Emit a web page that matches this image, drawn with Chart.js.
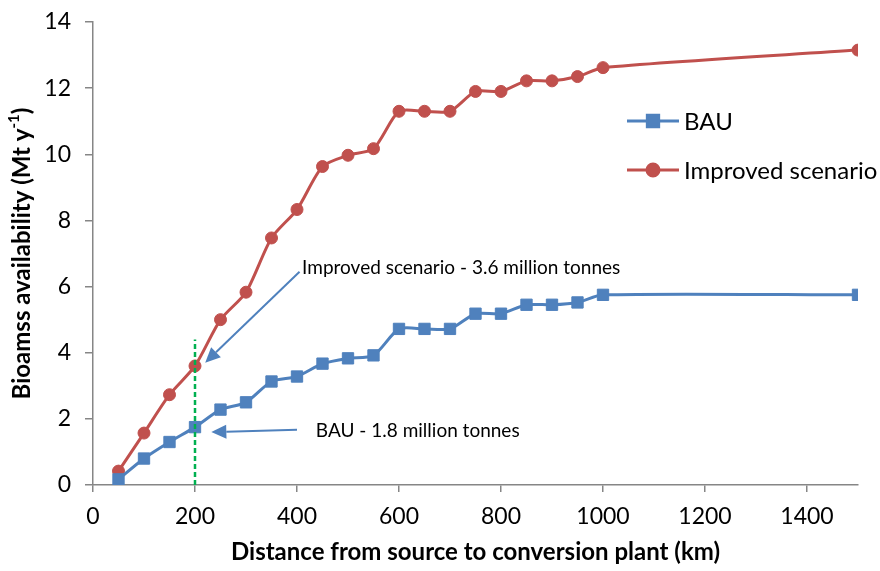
<!DOCTYPE html>
<html>
<head>
<meta charset="utf-8">
<script src="https://cdn.jsdelivr.net/npm/chart.js@4/dist/chart.umd.min.js"></script>
<style>
  html, body { margin: 0; padding: 0; background: #fff; }
  #wrap { width: 880px; height: 571px; }
</style>
</head>
<body>
<div id="wrap"><canvas id="chart"></canvas></div>
<script>
// data
const distances = [50, 100, 150, 200, 250, 300, 350, 400, 450, 500, 550, 600, 650, 700, 750, 800, 850, 900, 950, 1000, 1500];
const bau = [0.17, 0.8, 1.3, 1.75, 2.28, 2.5, 3.13, 3.28, 3.67, 3.83, 3.92, 4.72, 4.72, 4.72, 5.18, 5.18, 5.45, 5.45, 5.52, 5.75, 5.75];
const improved = [0.42, 1.57, 2.73, 3.6, 5.0, 5.83, 7.47, 8.33, 9.63, 9.97, 10.17, 11.3, 11.3, 11.3, 11.9, 11.9, 12.22, 12.22, 12.35, 12.62, 13.15];
const xTicks = [0, 200, 400, 600, 800, 1000, 1200, 1400];

const BLUE = '#4F81BD';
const RED = '#C0504D';
const FONT = 'Lato, "Open Sans", sans-serif';

const toPoints = (ys) => distances.map((d, i) => ({ x: d, y: ys[i] }));

function arrow(ctx, x1, y1, x2, y2) {
  const ang = Math.atan2(y2 - y1, x2 - x1);
  const head = 15, half = 7;
  const bx = x2 - head * Math.cos(ang), by = y2 - head * Math.sin(ang);
  ctx.beginPath();
  ctx.moveTo(x1, y1);
  ctx.lineTo(bx, by);
  ctx.stroke();
  ctx.beginPath();
  ctx.moveTo(x2, y2);
  ctx.lineTo(bx + half * Math.sin(ang), by - half * Math.cos(ang));
  ctx.lineTo(bx - half * Math.sin(ang), by + half * Math.cos(ang));
  ctx.closePath();
  ctx.fill();
}

const extras = {
  id: 'extras',
  afterDatasetsDraw(chart) {
    const { ctx, scales: { x, y }, chartArea } = chart;
    ctx.save();

    // green cut-off at 200 km
    ctx.strokeStyle = '#00B050';
    ctx.lineWidth = 2.5;
    ctx.setLineDash([5, 3]);
    ctx.beginPath();
    ctx.moveTo(x.getPixelForValue(200), y.getPixelForValue(0));
    ctx.lineTo(x.getPixelForValue(200), y.getPixelForValue(4.4));
    ctx.stroke();
    ctx.setLineDash([]);

    // annotation arrows
    ctx.strokeStyle = BLUE;
    ctx.fillStyle = BLUE;
    ctx.lineWidth = 2;
    arrow(ctx, x.getPixelForValue(405), y.getPixelForValue(6.45), x.getPixelForValue(220), y.getPixelForValue(3.7));
    arrow(ctx, x.getPixelForValue(400), y.getPixelForValue(1.67), x.getPixelForValue(232), y.getPixelForValue(1.6));

    ctx.fillStyle = '#000';
    ctx.font = '19px ' + FONT;
    ctx.textBaseline = 'middle';
    ctx.textAlign = 'left';
    ctx.fillText('Improved scenario - 3.6 million tonnes', x.getPixelForValue(410), y.getPixelForValue(6.56));
    ctx.fillText('BAU - 1.8 million tonnes', x.getPixelForValue(437), y.getPixelForValue(1.63));

    // legend
    const lx = 627, items = [['BAU', BLUE, 'rect', 121], ['Improved scenario', RED, 'circle', 170]];
    items.forEach(([label, color, shape, ly]) => {
      ctx.strokeStyle = color;
      ctx.fillStyle = color;
      ctx.lineWidth = 3;
      ctx.beginPath();
      ctx.moveTo(lx, ly);
      ctx.lineTo(lx + 52, ly);
      ctx.stroke();
      Chart.helpers.drawPoint(ctx, { pointStyle: shape, radius: shape === 'rect' ? 8 : 6, borderWidth: 1 }, lx + 26, ly);
      ctx.fillStyle = '#000';
      ctx.font = '24px ' + FONT;
      ctx.fillText(label, lx + 57, ly + 1);
    });

    // y title with superscript
    ctx.translate(22, (chartArea.top + chartArea.bottom) / 2);
    ctx.rotate(-Math.PI / 2);
    ctx.fillStyle = '#000';
    const main = 'Bioamss availability (Mt y';
    const sup = '-1';
    const close = ')';
    ctx.font = 'bold 24px ' + FONT;
    const wMain = ctx.measureText(main).width, wClose = ctx.measureText(close).width;
    ctx.font = 'bold 15px ' + FONT;
    const wSup = ctx.measureText(sup).width;
    let sx = -(wMain + wSup + wClose) / 2;
    ctx.textAlign = 'left';
    ctx.font = 'bold 24px ' + FONT;
    ctx.fillText(main, sx, 0);
    ctx.font = 'bold 15px ' + FONT;
    ctx.fillText(sup, sx + wMain, -8);
    ctx.font = 'bold 24px ' + FONT;
    ctx.fillText(close, sx + wMain + wSup, 0);
    ctx.restore();
  }
};

new Chart(document.getElementById('chart'), {
  type: 'line',
  data: {
    datasets: [
      {
        label: 'BAU',
        data: toPoints(bau),
        borderColor: BLUE,
        backgroundColor: BLUE,
        borderWidth: 3,
        pointStyle: 'rect',
        pointRadius: 8,
        pointBorderWidth: 1,
        tension: 0.25,
      },
      {
        label: 'Improved scenario',
        data: toPoints(improved),
        borderColor: RED,
        backgroundColor: RED,
        borderWidth: 3,
        pointStyle: 'circle',
        pointRadius: 6,
        pointBorderWidth: 1,
        tension: 0.25,
      },
    ],
  },
  options: {
    responsive: true,
    maintainAspectRatio: false,
    animation: false,
    layout: { padding: { top: 22, right: 22, left: 0, bottom: 0 } },
    plugins: { legend: { display: false }, tooltip: { enabled: false } },
    scales: {
      x: {
        type: 'linear',
        min: 0,
        max: 1500,
        afterBuildTicks: (s) => { s.ticks = xTicks.map((v) => ({ value: v })); },
        afterFit: (s) => { s.height = 86; s.paddingLeft = 0; s.paddingRight = 0; },
        border: { color: '#868686', width: 1.5 },
        grid: { drawOnChartArea: false, drawTicks: true, tickLength: 7, color: '#868686', lineWidth: 1.5 },
        ticks: { color: '#000', font: { family: FONT, size: 23 }, padding: 11, maxRotation: 0, callback: (v) => String(v) },
        title: {
          display: true,
          text: 'Distance from source to conversion plant (km)',
          color: '#000',
          font: { family: FONT, size: 24, weight: 'bold' },
          padding: { top: 0 },
        },
      },
      y: {
        min: 0,
        max: 14,
        ticks: { stepSize: 2, color: '#000', font: { family: FONT, size: 23 }, padding: 14 },
        afterFit: (s) => { s.width = 93; s.paddingTop = 0; s.paddingBottom = 0; },
        border: { color: '#868686', width: 1.5 },
        grid: { drawOnChartArea: false, drawTicks: true, tickLength: 8, color: '#868686', lineWidth: 1.5 },
      },
    },
  },
  plugins: [extras],
});
</script>
</body>
</html>
